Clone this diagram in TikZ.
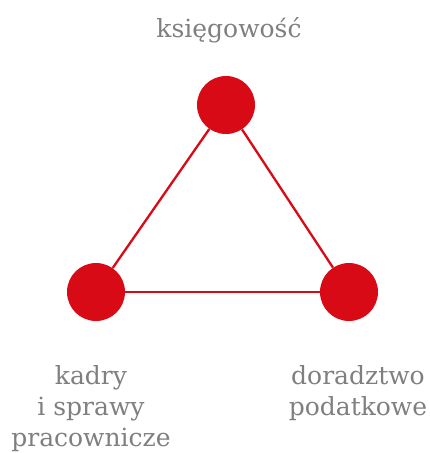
\documentclass[tikz,border=0pt]{standalone}
\usepackage{fontspec}
\setmainfont{DejaVu Serif}
\definecolor{cred}{HTML}{D80A16}
\definecolor{cgray}{HTML}{7F7F7F}
\begin{document}
\begin{tikzpicture}[x=1pt,y=-1pt,
  dot/.style={circle,fill=cred,minimum size=58pt,inner sep=0pt},
  lbl/.style={text=cgray,align=center,font=\fontsize{25}{31}\selectfont,inner sep=0pt},
  edge/.style={draw=cred,line width=2.3pt}]
\useasboundingbox (0,0) rectangle (429,453);
\node[dot] (a) at (226,105) {};
\node[dot] (b) at (96,292) {};
\node[dot] (c) at (349,292) {};
\draw[edge] (a) -- (b);
\draw[edge] (b) -- (c);
\draw[edge] (c) -- (a);
\node[lbl,anchor=base] (ta) at (229,37) {księgowość};
\node[lbl,anchor=base] (tb) at (91,446) {kadry\\i sprawy\\pracownicze};
\node[lbl,anchor=base] (tc) at (358,415) {doradztwo\\podatkowe};
\end{tikzpicture}
\end{document}
